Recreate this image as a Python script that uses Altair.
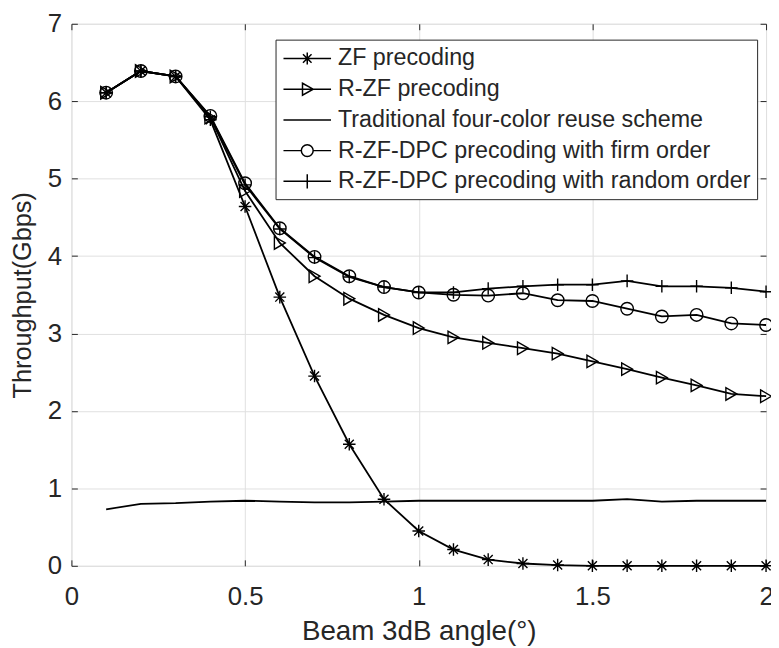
import altair as alt
import pandas as pd

# ---- data ----
x_vals = [0.1, 0.2, 0.3, 0.4, 0.5, 0.6, 0.7, 0.8, 0.9, 1.0,
          1.1, 1.2, 1.3, 1.4, 1.5, 1.6, 1.7, 1.8, 1.9, 2.0]
zf = [6.11, 6.39, 6.32, 5.76, 4.64, 3.47, 2.45, 1.57, 0.86, 0.45,
      0.21, 0.08, 0.03, 0.01, 0.0, 0.0, 0.0, 0.0, 0.0, 0.0]
rzf = [6.11, 6.39, 6.32, 5.79, 4.84, 4.17, 3.74, 3.45, 3.24, 3.07,
       2.95, 2.88, 2.81, 2.74, 2.64, 2.54, 2.43, 2.33, 2.22, 2.19]
trad = [0.73, 0.80, 0.81, 0.83, 0.84, 0.83, 0.82, 0.82, 0.83, 0.84,
        0.84, 0.84, 0.84, 0.84, 0.84, 0.86, 0.83, 0.84, 0.84, 0.84]
firm = [6.11, 6.39, 6.32, 5.81, 4.94, 4.36, 3.99, 3.74, 3.60, 3.53,
        3.50, 3.49, 3.52, 3.43, 3.42, 3.32, 3.22, 3.24, 3.13, 3.11]
rand = [6.11, 6.39, 6.32, 5.80, 4.92, 4.35, 3.98, 3.73, 3.60, 3.53,
        3.53, 3.58, 3.61, 3.63, 3.63, 3.68, 3.61, 3.61, 3.59, 3.54]

series = ["ZF precoding", "R-ZF precoding", "Traditional four-color reuse scheme",
          "R-ZF-DPC precoding with firm order", "R-ZF-DPC precoding with random order"]
x_ticks = [0, 0.5, 1, 1.5, 2]
y_ticks = [0, 1, 2, 3, 4, 5, 6, 7]

rows = []
for name, vals in zip(series, [zf, rzf, trad, firm, rand]):
    for xv, yv in zip(x_vals, vals):
        rows.append({"x": xv, "y": yv, "series": name})
df = pd.DataFrame(rows)

W, H = 701, 547
FONT = "Liberation Sans"
TXT = "#262626"

xscale = alt.Scale(domain=[0, 2], nice=False, zero=False)
yscale = alt.Scale(domain=[0, 7], nice=False, zero=False)

def tick_axis(orient, offset, values):
    return alt.Axis(orient=orient, offset=offset, values=values, labels=False,
                    domain=False, grid=False, ticks=True, tickSize=6,
                    tickColor="#262626", tickWidth=1, title=None)

base = alt.Chart(df)

lines = base.mark_line(color="black", strokeWidth=1.8).encode(
    x=alt.X("x:Q", scale=xscale,
            axis=alt.Axis(orient="bottom", values=x_ticks, ticks=False, domain=False,
                          grid=True, gridColor="#e0e0e0", gridWidth=1,
                          labelFontSize=26, labelFont=FONT, labelColor=TXT,
                          labelPadding=18, labelFlush=False, labelOverlap=False,
                          format="~g", title="Beam 3dB angle(°)", titleFont=FONT,
                          titleFontSize=28, titleFontWeight="normal",
                          titleColor=TXT, titlePadding=8)),
    y=alt.Y("y:Q", scale=yscale,
            axis=alt.Axis(orient="left", values=y_ticks, ticks=False, domain=False,
                          grid=True, gridColor="#e0e0e0", gridWidth=1,
                          labelFontSize=26, labelFont=FONT, labelColor=TXT,
                          labelPadding=10, labelFlush=False, labelOverlap=False,
                          title="Throughput(Gbps)", titleFont=FONT,
                          titleFontSize=25.5, titleFontWeight="normal",
                          titleColor=TXT, titlePadding=12)),
    detail="series:N",
)

marker_series = [series[0], series[1], series[3], series[4]]
marker_shapes = [
    "M-1,0L1,0M0,-1L0,1M-0.72,-0.72L0.72,0.72M-0.72,0.72L0.72,-0.72",
    "triangle-right",
    "circle",
    "M-1,0L1,0M0,-1L0,1",
]

points = base.transform_filter(
    alt.FieldOneOfPredicate(field="series", oneOf=marker_series)
).mark_point(filled=False, color="black", strokeWidth=1.4, size=160, opacity=1).encode(
    x=alt.X("x:Q", scale=xscale, axis=tick_axis("top", -H, x_ticks)),
    y=alt.Y("y:Q", scale=yscale, axis=tick_axis("right", -W, y_ticks)),
    shape=alt.Shape("series:N", scale=alt.Scale(domain=marker_series, range=marker_shapes),
                    legend=None),
)

# legend glyphs: a line segment with the series marker in its middle
legend_shapes = [
    "M-1,0L3,0M0.5,0L1.5,0M1,-0.5L1,0.5M0.64,-0.36L1.36,0.36M0.64,0.36L1.36,-0.36",
    "M-1,0L3,0M0.6,-0.5L1.5,0L0.6,0.5Z",
    "M-1,0L3,0",
    "M-1,0L0.5,0M1.5,0L3,0M1.5,0A0.5,0.5,0,1,1,0.5,0A0.5,0.5,0,1,1,1.5,0",
    "M-1,0L3,0M1,-0.6L1,0.6",
]

legend_layer = base.transform_filter("false").mark_point(
    filled=False, color="black", opacity=1
).encode(
    x=alt.X("x:Q", scale=xscale, axis=tick_axis("bottom", -H, x_ticks)),
    y=alt.Y("y:Q", scale=yscale, axis=tick_axis("left", -W, y_ticks)),
    shape=alt.Shape("series:N", scale=alt.Scale(domain=series, range=legend_shapes),
                    legend=alt.Legend(orient="none", legendX=206, legendY=16, title=None,
                                      symbolSize=576, symbolStrokeWidth=1.5,
                                      symbolStrokeColor="black",
                                      symbolFillColor="transparent",
                                      labelFontSize=23.5, labelFont=FONT, labelColor=TXT,
                                      labelOffset=30, labelLimit=0, rowPadding=6,
                                      padding=6, strokeColor="#262626",
                                      fillColor="white", symbolOffset=1)),
)

chart = alt.layer(lines, points, legend_layer).resolve_scale(
    shape="independent"
).resolve_axis(
    x="independent", y="independent"
).properties(
    width=W, height=H,
    autosize=alt.AutoSizeParams(type="none"),
    padding={"left": 64, "top": 13, "right": 5, "bottom": 78},
).configure_view(
    stroke="#262626", strokeWidth=1.3
).configure(background="white")

chart.save("out.html", embed_options={"renderer": "svg", "actions": False})
